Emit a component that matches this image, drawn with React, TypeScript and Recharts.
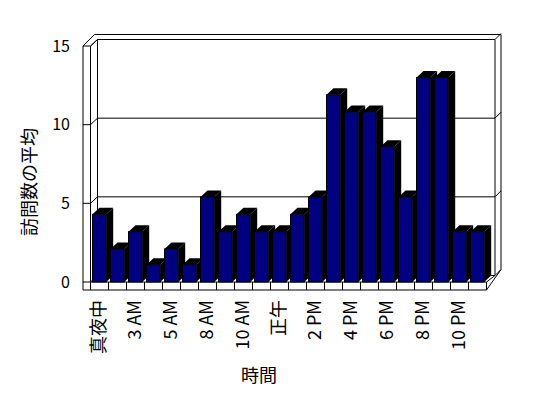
import { BarChart, Bar, XAxis, YAxis, CartesianGrid, Customized } from 'recharts';

const hours = [
  '真夜中', '2 AM', '3 AM', '4 AM', '5 AM', '7 AM', '8 AM', '9 AM', '10 AM', '11 AM', '正午',
  '1 PM', '2 PM', '3 PM', '4 PM', '5 PM', '6 PM', '7 PM', '8 PM', '9 PM', '10 PM', '11 PM',
];
const visits = [4.3, 2.1, 3.2, 1.1, 2.1, 1.1, 5.4, 3.2, 4.3, 3.2, 3.2, 4.3, 5.4, 11.9, 10.8, 10.8, 8.6, 5.4, 13.0, 13.0, 3.2, 3.2];
const yTicks = [0, 5, 10, 15];

const data = hours.map((hour, i) => ({ hour, visits: visits[i] }));

const W = 548;
const H = 398;
const LEFT = 90.5;
const RIGHT = 486.5;
const TOP = 46;
const BOTTOM = 282;
const DX = 7;
const DY = 6.5;
const SLOT = (RIGHT - LEFT) / hours.length;
const FONT = '"Noto Sans CJK JP", "Noto Sans", sans-serif';

function Box3D(props: any) {
  const { x, y, width, height } = props;
  if (!height || height <= 0) return null;
  const r = x + width;
  const b = y + height;
  return (
    <g>
      <polygon points={`${x},${y} ${x + DX},${y - DY} ${r + DX},${y - DY} ${r},${y}`} fill="#000" />
      <polygon points={`${r},${y} ${r + DX},${y - DY} ${r + DX},${b - DY} ${r},${b}`} fill="#000" />
      <rect x={x} y={y} width={width} height={height} fill="#000080" stroke="#000" strokeWidth={1} />
    </g>
  );
}

// gridline: short tick on the left wall, then along the back wall, then a nick on the right wall
const wallLine = (p: any) => {
  const { x1, y1, x2, key } = p;
  const bx = x2 + DX + 1.5;
  return (
    <polyline
      key={key}
      points={`${x1 - 7.5},${y1} ${x1},${y1} ${x1 + DX},${y1 - DY} ${bx},${y1 - DY} ${bx + 6},${y1 - DY - 6}`}
      fill="none"
      stroke="#000"
      strokeWidth={1}
    />
  );
};

function ValueTick(props: any) {
  const { y, payload } = props;
  return (
    <text x={70} y={y} dy="0.35em" textAnchor="end" fontSize={16} fontFamily={FONT} fill="#000">
      {payload.value}
    </text>
  );
}

function HourTick(props: any) {
  const { x, payload, index } = props;
  const left = x - SLOT / 2;
  const ty = BOTTOM + 18;
  return (
    <g>
      <line x1={left} y1={BOTTOM} x2={left} y2={BOTTOM + 8} stroke="#000" />
      {index === hours.length - 1 && <line x1={x + SLOT / 2} y1={BOTTOM} x2={x + SLOT / 2} y2={BOTTOM + 8} stroke="#000" />}
      {index % 2 === 0 && (
        <text
          x={x}
          y={ty}
          dy="0.3em"
          textAnchor="end"
          transform={`rotate(-90 ${x} ${ty})`}
          fontSize={18}
          fontFamily={FONT}
          style={{ fill: '#000' }}
        >
          {payload.value}
        </text>
      )}
    </g>
  );
}

function Frame() {
  const rb = RIGHT + DX + 1.5;
  return (
    <g>
      <g stroke="#000" fill="none" strokeWidth={1}>
        {/* outer walls */}
        <polyline points={`${LEFT - 7.5},${BOTTOM + 8} ${LEFT - 7.5},${TOP} ${LEFT + 4},${TOP - 11.5} ${rb + 6},${TOP - 11.5} ${rb + 6},${BOTTOM - DY - 6}`} />
        <polyline points={`${LEFT},${BOTTOM} ${LEFT},${TOP} ${LEFT + DX},${TOP - DY}`} />
        <line x1={LEFT + DX} y1={TOP - DY} x2={LEFT + DX} y2={BOTTOM - DY} />
        <line x1={rb} y1={TOP - DY} x2={rb} y2={BOTTOM - DY} />
        {/* floor edge */}
        <polyline points={`${LEFT - 7.5},${BOTTOM + 8} ${RIGHT},${BOTTOM + 8} ${rb + 6},${BOTTOM - DY - 6}`} />
        <polyline points={`${LEFT},${BOTTOM} ${RIGHT},${BOTTOM} ${rb},${BOTTOM - DY}`} />
      </g>
      <text
        x={28}
        y={182}
        textAnchor="middle"
        dominantBaseline="central"
        transform="rotate(-90 28 182)"
        fontSize={18}
        fontFamily={FONT}
        fill="#000"
      >
        訪問数の平均
      </text>
      <text x={259} y={374} textAnchor="middle" dominantBaseline="central" fontSize={18} fontFamily={FONT} fill="#000">
        時間
      </text>
    </g>
  );
}

export default function App() {
  return (
    <div style={{ position: 'absolute', left: 0, top: 0, width: W, height: H, background: '#fff' }}>
      <BarChart
        width={W}
        height={H}
        data={data}
        margin={{ top: TOP, right: W - RIGHT, bottom: 0, left: 0 }}
        barCategoryGap={0}
      >
        <CartesianGrid vertical={false} horizontal={wallLine} />
        <XAxis
          dataKey="hour"
          interval={0}
          height={H - BOTTOM}
          axisLine={false}
          tickLine={false}
          tick={<HourTick />}
        />
        <YAxis
          domain={[0, 15]}
          ticks={yTicks}
          width={LEFT}
          axisLine={false}
          tickLine={false}
          tick={<ValueTick />}
        />
        <Bar dataKey="visits" barSize={13.7} shape={<Box3D />} isAnimationActive={false} />
        <Customized component={<Frame />} />
      </BarChart>
    </div>
  );
}
